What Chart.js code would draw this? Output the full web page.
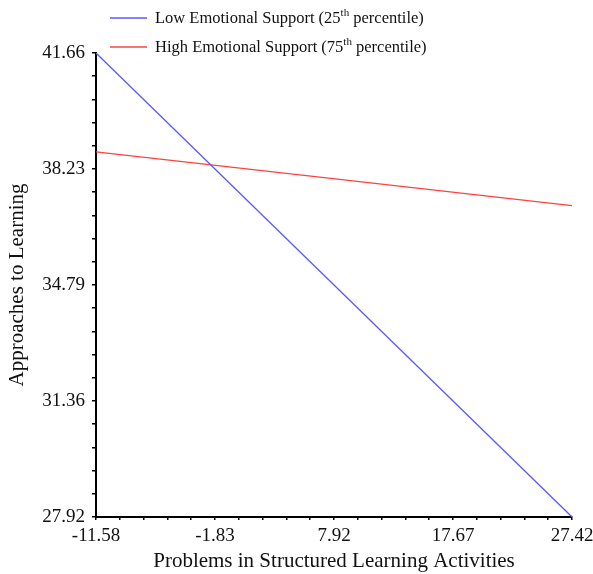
<!DOCTYPE html>
<html>
<head>
<meta charset="utf-8">
<script src="https://cdn.jsdelivr.net/npm/chart.js@4.4.1/dist/chart.umd.min.js"></script>
<style>
  html, body { margin: 0; padding: 0; background: #fff; }
  #wrap { width: 593px; height: 574px; }
</style>
</head>
<body>
<div id="wrap"><canvas id="chart" width="593" height="574"></canvas></div>
<script>
// Axis tick labels (major ticks)
var xTicks = [-11.58, -1.83, 7.92, 17.67, 27.42];
var yTicks = [27.92, 31.36, 34.79, 38.23, 41.66];

// Series: simple slopes at the two ends of the x range
var xEnds = [-11.58, 27.42];
var lowSupport = [41.66, 27.92];
var highSupport = [38.73, 37.14];

var legendItems = [
  { pre: 'Low Emotional Support (25', sup: 'th', post: ' percentile)', color: '#5a5aff' },
  { pre: 'High Emotional Support (75', sup: 'th', post: ' percentile)', color: '#ff4040' }
];

var serif = "'Liberation Serif', 'Times New Roman', serif";

// major ticks plus 4 minor ticks in between
function withMinor(majors) {
  var out = [];
  for (var i = 0; i < majors.length - 1; i++) {
    var step = (majors[i + 1] - majors[i]) / 5;
    for (var k = 0; k < 5; k++) out.push({ value: majors[i] + step * k });
  }
  out.push({ value: majors[majors.length - 1] });
  return out;
}

function toPoints(xs, ys) {
  return xs.map(function (x, i) { return { x: x, y: ys[i] }; });
}

// draws the legend with superscripts in the top padding
var legendPlugin = {
  id: 'supLegend',
  afterDraw: function (chart) {
    var ctx = chart.ctx;
    ctx.save();
    legendItems.forEach(function (item, i) {
      var y = 18 + i * 29;
      ctx.strokeStyle = item.color;
      ctx.lineWidth = 1.3;
      ctx.beginPath();
      ctx.moveTo(110, y);
      ctx.lineTo(147, y);
      ctx.stroke();

      ctx.fillStyle = '#111';
      ctx.textBaseline = 'middle';
      ctx.font = '16.5px ' + serif;
      var x = 155;
      ctx.fillText(item.pre, x, y + 1);
      x += ctx.measureText(item.pre).width;
      ctx.font = '11px ' + serif;
      ctx.fillText(item.sup, x, y - 5);
      x += ctx.measureText(item.sup).width;
      ctx.font = '16.5px ' + serif;
      ctx.fillText(item.post, x, y + 1);
    });
    ctx.restore();
  }
};

new Chart(document.getElementById('chart'), {
  type: 'line',
  data: {
    datasets: [
      {
        label: 'Low Emotional Support (25th percentile)',
        data: toPoints(xEnds, lowSupport),
        borderColor: legendItems[0].color,
        borderWidth: 1.3,
        pointRadius: 0
      },
      {
        label: 'High Emotional Support (75th percentile)',
        data: toPoints(xEnds, highSupport),
        borderColor: legendItems[1].color,
        borderWidth: 1.3,
        pointRadius: 0
      }
    ]
  },
  options: {
    responsive: false,
    animation: false,
    layout: { padding: { top: 53, right: 21, left: 0, bottom: 0 } },
    plugins: {
      legend: { display: false },
      tooltip: { enabled: false }
    },
    scales: {
      x: {
        type: 'linear',
        min: xTicks[0],
        max: xTicks[xTicks.length - 1],
        afterBuildTicks: function (scale) { scale.ticks = withMinor(xTicks); },
        afterFit: function (scale) {
          scale.height = 57;
          scale.paddingLeft = 0;
          scale.paddingRight = 0;
        },
        border: { color: '#000', width: 2 },
        grid: { drawOnChartArea: false, color: '#000', lineWidth: 1.5, tickLength: 3 },
        ticks: {
          autoSkip: false,
          maxRotation: 0,
          padding: 5,
          color: '#111',
          font: { family: serif, size: 19 },
          callback: function (v, i) { return i % 5 === 0 ? xTicks[i / 5].toFixed(2) : ''; }
        },
        title: {
          display: true,
          text: 'Problems in Structured Learning Activities',
          color: '#111',
          font: { family: serif, size: 21 },
          padding: { top: 0, bottom: 0 }
        }
      },
      y: {
        min: yTicks[0],
        max: yTicks[yTicks.length - 1],
        afterBuildTicks: function (scale) { scale.ticks = withMinor(yTicks); },
        afterFit: function (scale) {
          scale.width = 96;
          scale.paddingTop = 0;
          scale.paddingBottom = 0;
        },
        border: { color: '#000', width: 2 },
        grid: { drawOnChartArea: false, color: '#000', lineWidth: 1.5, tickLength: 4 },
        ticks: {
          autoSkip: false,
          padding: 7,
          color: '#111',
          font: { family: serif, size: 19 },
          callback: function (v, i) { return i % 5 === 0 ? yTicks[i / 5].toFixed(2) : ''; }
        },
        title: {
          display: true,
          text: 'Approaches to Learning',
          color: '#111',
          font: { family: serif, size: 21 },
          padding: { top: 5, bottom: 0 }
        }
      }
    }
  },
  plugins: [legendPlugin]
});
</script>
</body>
</html>
